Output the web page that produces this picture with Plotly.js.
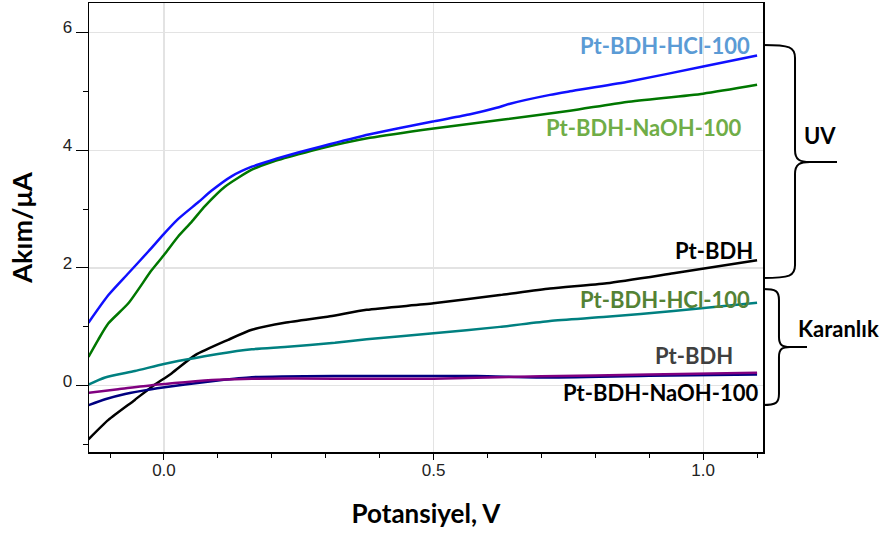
<!DOCTYPE html>
<html>
<head>
<meta charset="utf-8">
<script src="https://cdn.plot.ly/plotly-3.0.1.min.js"></script>
<style>html,body{margin:0;padding:0;background:#fff;}#chart{width:885px;height:535px;}</style>
</head>
<body>
<div id="chart"></div>
<script>
// ---- data ----
const uvHclX = [-0.14, -0.103, -0.066, -0.029, 0.0, 0.026, 0.064, 0.088, 0.126, 0.163, 0.2, 0.249, 0.29, 0.382, 0.5, 0.568, 0.617, 0.642, 0.716, 0.753, 0.858, 1.0, 1.10];
const uvHclY = [1.07, 1.54, 1.91, 2.28, 2.58, 2.83, 3.12, 3.31, 3.56, 3.72, 3.83, 3.96, 4.06, 4.27, 4.49, 4.61, 4.72, 4.79, 4.94, 5.00, 5.16, 5.42, 5.61];

const uvNaohX = [-0.14, -0.122, -0.103, -0.066, -0.023, 0.0, 0.026, 0.051, 0.076, 0.113, 0.163, 0.2, 0.249, 0.29, 0.382, 0.5, 0.63, 0.753, 0.858, 1.0, 1.10];
const uvNaohY = [0.49, 0.78, 1.06, 1.40, 1.96, 2.22, 2.53, 2.78, 3.05, 3.38, 3.67, 3.80, 3.93, 4.03, 4.21, 4.37, 4.52, 4.67, 4.82, 4.96, 5.11];

const uvBdhX = [-0.14, -0.103, -0.054, -0.023, 0.014, 0.058, 0.119, 0.163, 0.224, 0.308, 0.376, 0.5, 0.623, 0.716, 0.821, 0.945, 1.10];
const uvBdhY = [-0.91, -0.58, -0.24, -0.02, 0.21, 0.52, 0.78, 0.95, 1.07, 1.18, 1.29, 1.40, 1.54, 1.65, 1.74, 1.91, 2.13];

const darkHclX = [-0.14, -0.109, -0.054, 0.0, 0.039, 0.10, 0.163, 0.224, 0.317, 0.376, 0.5, 0.623, 0.716, 0.821, 0.945, 1.10];
const darkHclY = [0.02, 0.14, 0.25, 0.37, 0.44, 0.54, 0.62, 0.66, 0.73, 0.79, 0.89, 1.00, 1.10, 1.17, 1.27, 1.41];

const darkNaohX = [-0.14, -0.109, -0.072, -0.023, 0.039, 0.10, 0.163, 0.317, 0.58, 0.7, 0.9, 1.10];
const darkNaohY = [-0.33, -0.23, -0.14, -0.06, 0.02, 0.09, 0.145, 0.165, 0.165, 0.14, 0.17, 0.19];

const darkBdhX = [-0.14, -0.085, -0.023, 0.039, 0.10, 0.163, 0.317, 0.5, 0.7, 0.9, 1.10];
const darkBdhY = [-0.12, -0.06, 0.01, 0.06, 0.10, 0.12, 0.12, 0.12, 0.16, 0.19, 0.22];

const xTickVals = [0.0, 0.5, 1.0];
const xTickText = ["0.0", "0.5", "1.0"];
const yTickVals = [0, 2, 4, 6];
const yTickText = ["0", "2", "4", "6"];

const labelTexts = ["Pt-BDH-HCl-100", "Pt-BDH-NaOH-100", "Pt-BDH", "Pt-BDH-HCl-100", "Pt-BDH", "Pt-BDH-NaOH-100"];
const labelX = [1.091, 1.074, 1.096, 1.091, 1.059, 1.106];
const labelY = [5.77, 4.38, 2.30, 1.46, 0.52, -0.12];
const labelColors = ["#5b9bd5", "#70ad47", "#000000", "#548235", "#404040", "#000000"];
const groupTexts = ["UV", "Karanlık"];

// ---- layout helpers (pixel -> paper for decorations) ----
const M = {l: 89, r: 122, t: 3, b: 83};
const W = 885, H = 535;
const PW = W - M.l - M.r, PH = H - M.t - M.b;
function P(px, py) { return ((px - M.l) / PW).toFixed(4) + "," + ((H - M.b - py) / PH).toFixed(4); }

const uvBrace = "M" + P(763,45) + " C" + P(790,45) + " " + P(795,47) + " " + P(795,58) +
  " L" + P(795,150) + " C" + P(795,160) + " " + P(800,162) + " " + P(810,162) + " L" + P(837,162) +
  " M" + P(810,162) + " C" + P(800,162) + " " + P(795,164) + " " + P(795,174) +
  " L" + P(795,265) + " C" + P(795,276) + " " + P(790,278) + " " + P(763,278);
const darkBrace = "M" + P(763,289) + " C" + P(776,289) + " " + P(779,291) + " " + P(779,300) +
  " L" + P(779,337) + " C" + P(779,345) + " " + P(782,347) + " " + P(790,347) + " L" + P(807,347) +
  " M" + P(790,347) + " C" + P(782,347) + " " + P(779,349) + " " + P(779,357) +
  " L" + P(779,394) + " C" + P(779,403) + " " + P(776,405) + " " + P(763,405);

const lw = 2.5;
function ln(color) { return {color: color, width: lw, shape: "spline", smoothing: 0.6}; }
const traces = [
  {x: uvBdhX, y: uvBdhY, mode: "lines", line: ln("#000000")},
  {x: darkHclX, y: darkHclY, mode: "lines", line: ln("#008080")},
  {x: darkNaohX, y: darkNaohY, mode: "lines", line: ln("#000080")},
  {x: darkBdhX, y: darkBdhY, mode: "lines", line: ln("#800080")},
  {x: uvNaohX, y: uvNaohY, mode: "lines", line: ln("#007700")},
  {x: uvHclX, y: uvHclY, mode: "lines", line: ln("#1010ff")}
];

const labelFont = "Lato, 'Open Sans', sans-serif";
const annotations = labelTexts.map((t, i) => ({
  x: labelX[i], y: labelY[i], xref: "x", yref: "y", text: t, showarrow: false,
  xanchor: "right", yanchor: "middle",
  font: {family: labelFont, size: 22, color: labelColors[i], weight: 700}
}));
annotations.push({x: (820 - M.l) / PW, y: (H - M.b - 135) / PH, xref: "paper", yref: "paper", text: groupTexts[0],
  showarrow: false, xanchor: "center", yanchor: "middle", font: {family: labelFont, size: 22, color: "#000", weight: 700}});
annotations.push({x: (838 - M.l) / PW, y: (H - M.b - 328) / PH, xref: "paper", yref: "paper", text: groupTexts[1],
  showarrow: false, xanchor: "center", yanchor: "middle", font: {family: labelFont, size: 22, color: "#000", weight: 700}});

const layout = {
  width: W, height: H,
  margin: M,
  paper_bgcolor: "#ffffff", plot_bgcolor: "#ffffff",
  showlegend: false,
  xaxis: {
    range: [-0.139, 1.111], showline: true, mirror: true, linecolor: "#000", linewidth: 1.5,
    tickmode: "array", tickvals: xTickVals, ticktext: xTickText,
    ticks: "outside", ticklen: 6, tickwidth: 1, tickcolor: "#000",
    showgrid: true, gridcolor: "#e3e3e3", gridwidth: 1.2, zeroline: false,
    minor: {dtick: 0.1, tick0: 0, ticks: "outside", ticklen: 4, tickcolor: "#000", showgrid: false},
    tickfont: {family: "'Liberation Sans', Arial, sans-serif", size: 17, color: "#222"},
    ticklabelstandoff: -4,
    title: {text: "Potansiyel, V", standoff: 26, font: {family: labelFont, size: 26, color: "#000", weight: 700}}
  },
  yaxis: {
    range: [-1.125, 6.5], showline: true, mirror: true, linecolor: "#000", linewidth: 1.5,
    tickmode: "array", tickvals: yTickVals, ticktext: yTickText,
    ticks: "outside", ticklen: 12, tickwidth: 1, tickcolor: "#000",
    showgrid: true, gridcolor: "#e3e3e3", gridwidth: 1.2, zeroline: false,
    minor: {dtick: 1, tick0: 1, ticks: "outside", ticklen: 5, tickcolor: "#000", showgrid: false},
    tickfont: {family: "'Liberation Sans', Arial, sans-serif", size: 17, color: "#222"},
    ticklabelshift: -5,
    title: {text: "Akım/μA", standoff: 22, font: {family: labelFont, size: 27, color: "#000", weight: 700}}
  },
  shapes: [
    {type: "path", xref: "paper", yref: "paper", path: uvBrace, line: {color: "#000", width: 2}},
    {type: "path", xref: "paper", yref: "paper", path: darkBrace, line: {color: "#000", width: 2}}
  ],
  annotations: annotations
};

Plotly.newPlot("chart", traces, layout, {displayModeBar: false, staticPlot: true});
</script>
</body>
</html>
